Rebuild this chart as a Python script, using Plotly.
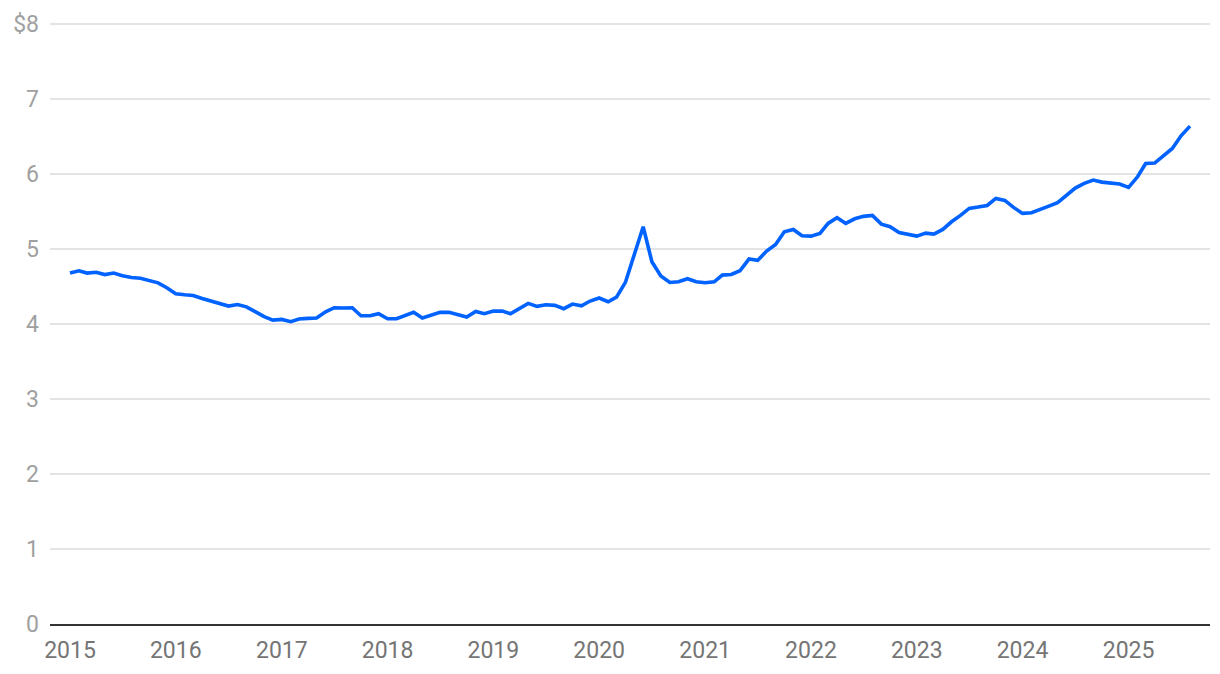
import pandas as pd
import plotly.graph_objects as go

# monthly values, Jan 2015 - Aug 2025
months = pd.date_range('2015-01-01', '2025-08-01', freq='MS')
values = [
    4.68, 4.71, 4.68, 4.69, 4.66, 4.68, 4.645, 4.62, 4.61, 4.58, 4.55, 4.485,
    4.405, 4.39, 4.38, 4.34, 4.31, 4.27, 4.24, 4.26, 4.23, 4.165, 4.10, 4.053,
    4.062, 4.031, 4.067, 4.076, 4.08, 4.164, 4.218, 4.215, 4.218, 4.111, 4.111, 4.138,
    4.071, 4.071, 4.107, 4.156, 4.08, 4.12, 4.156, 4.156, 4.124, 4.093, 4.169, 4.138,
    4.173, 4.173, 4.138, 4.205, 4.276, 4.236, 4.258, 4.249, 4.205, 4.267, 4.244, 4.307,
    4.347, 4.298, 4.36, 4.56, 4.942, 5.298, 4.831, 4.64, 4.555, 4.564, 4.604, 4.564,
    4.551, 4.564, 4.653, 4.662, 4.711, 4.867, 4.849, 4.973, 5.062, 5.231, 5.262, 5.178,
    5.173, 5.209, 5.342, 5.418, 5.342, 5.404, 5.436, 5.449, 5.333, 5.298, 5.222, 5.198,
    5.173, 5.213, 5.2, 5.262, 5.364, 5.449, 5.542, 5.56, 5.582, 5.676, 5.649, 5.556,
    5.476, 5.484, 5.533, 5.573, 5.618, 5.716, 5.813, 5.876, 5.92, 5.893, 5.88, 5.867,
    5.822, 5.964, 6.142, 6.147, 6.244, 6.342, 6.511, 6.64,
]

y_ticks = [0, 1, 2, 3, 4, 5, 6, 7, 8]
y_labels = ['0', '1', '2', '3', '4', '5', '6', '7', '$8']
x_ticks = pd.date_range('2015-01-01', '2025-01-01', freq='YS')
x_labels = [str(d.year) for d in x_ticks]

fig = go.Figure(go.Scatter(x=months, y=values, mode='lines',
                           line=dict(color='#0062ff', width=3.6), hoverinfo='skip'))

# page body has an 8px margin, so the figure is a bit smaller than the window
fig.update_layout(
    width=1212, height=666,
    margin=dict(l=42, r=10, t=15, b=50, autoexpand=False),
    paper_bgcolor='white', plot_bgcolor='white',
    showlegend=False,
    font=dict(family='Roboto', size=23),
)
fig.update_xaxes(
    range=['2014-10-24', '2025-10-09'],
    tickvals=x_ticks, ticktext=x_labels,
    tickfont=dict(color='#757575', size=23),
    showgrid=False, zeroline=False,
    showline=True, linecolor='#333333', linewidth=2,
    ticks='', fixedrange=True, automargin=False, ticklabelstandoff=4,
)
fig.update_yaxes(
    range=[0, 8.015],
    tickvals=y_ticks, ticktext=y_labels,
    tickfont=dict(color='#a0a0a0', size=23),
    showgrid=True, gridcolor='#e4e4e4', gridwidth=1.5,
    zeroline=False, showline=False, ticks='', fixedrange=True,
    automargin=False, ticklabelstandoff=10,
)
fig.write_html('out.html')
